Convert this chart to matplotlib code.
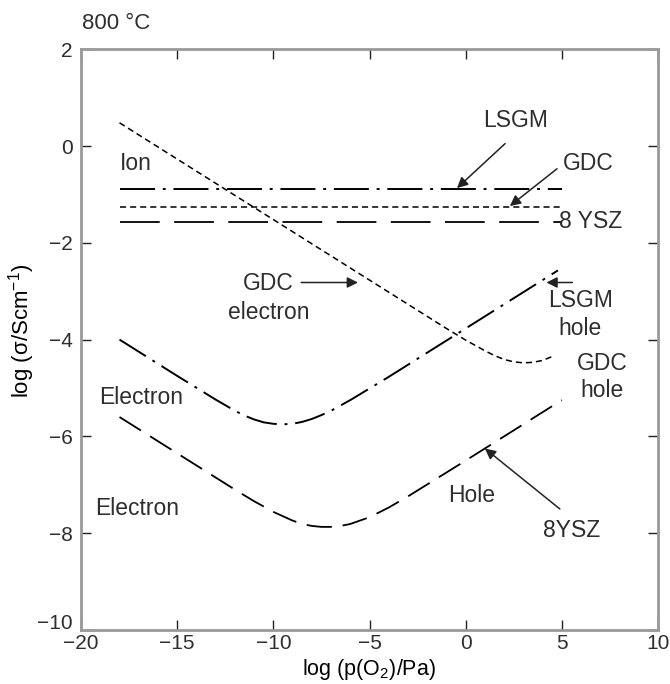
import matplotlib
matplotlib.use("Agg")
import matplotlib.pyplot as plt
import matplotlib.transforms as mtransforms

plt.rcParams['font.family'] = ['Liberation Sans', 'DejaVu Sans']
plt.rcParams['text.color'] = '#2e2e2e'
plt.rcParams['mathtext.fontset'] = 'custom'
plt.rcParams['mathtext.rm'] = 'Liberation Sans'
plt.rcParams['mathtext.it'] = 'Liberation Sans'

# ionic conductivities (flat lines), log(S/cm)
ion_x = [-18, 5]
lsgm_ion = [-0.88, -0.88]
gdc_ion = [-1.25, -1.25]
ysz_ion = [-1.56, -1.56]

# GDC electronic + hole conductivity
gdc_x = [-18, -10, -5, -2, -1, 0, 0.5, 1, 1.5, 2, 2.5, 3, 3.5, 4, 4.5]
gdc_y = [0.48, -1.52, -2.77, -3.52, -3.77, -4.01, -4.12, -4.23, -4.33,
         -4.41, -4.46, -4.48, -4.47, -4.43, -4.35]

# LSGM electron / hole
lsgm_x = [-18, -15, -13, -12, -11.5, -11, -10.5, -10, -9.5, -9, -8.5, -8,
          -7.5, -7, -6, -4, -1, 2, 4.8]
lsgm_y = [-4.00, -4.75, -5.24, -5.47, -5.57, -5.65, -5.71, -5.74, -5.75,
          -5.74, -5.70, -5.64, -5.56, -5.47, -5.25, -4.77, -4.02, -3.27, -2.57]

# 8YSZ electron / hole
ysz_x = [-18, -15, -12, -11, -10, -9, -8.5, -8, -7.5, -7, -6.5, -6, -5, -4,
         -3, 0, 3, 5]
ysz_y = [-5.60, -6.35, -7.10, -7.34, -7.56, -7.74, -7.81, -7.85, -7.87,
         -7.87, -7.85, -7.81, -7.67, -7.47, -7.24, -6.50, -5.75, -5.25]

fig = plt.figure(figsize=(6.7, 6.84), dpi=100)
ax = fig.add_axes([0.121, 0.079, 0.861, 0.849])

dashdot = (0, (18, 4, 1.5, 4))
short = (0, (4, 2.6))
longd = (0, (22, 8))

ax.plot(ion_x, lsgm_ion, color='k', lw=1.4, linestyle=dashdot)
ax.plot(ion_x, gdc_ion, color='k', lw=1.1, linestyle=short)
ax.plot(ion_x, ysz_ion, color='k', lw=1.3, linestyle=longd)
ax.plot(gdc_x, gdc_y, color='k', lw=1.1, linestyle=short)
ax.plot(lsgm_x, lsgm_y, color='k', lw=1.4, linestyle=(0, (16, 4, 1.5, 4)))
ax.plot(ysz_x, ysz_y, color='k', lw=1.3, linestyle=(0, (14, 6)))

ax.set_xlim(-20, 10)
ax.set_ylim(-10, 2)
ax.set_xticks([-20, -15, -10, -5, 0, 5, 10])
ax.set_yticks([-10, -8, -6, -4, -2, 0, 2])
ax.tick_params(direction='in', top=True, right=True, length=7, width=1,
               color='#222222', labelsize=15, labelcolor='#2e2e2e', pad=6)
ax.tick_params(axis='x', pad=3)
for s in ax.spines.values():
    s.set_color('#999999')
    s.set_linewidth(2)

# lift the bottom y label a little so it clears the x tick labels
low = ax.yaxis.get_major_ticks()[0].label1
low.set_transform(low.get_transform() +
                  mtransforms.ScaledTranslation(0, 6 / 72, fig.dpi_scale_trans))

ax.set_xlabel(r'log (p(O$_2$)/Pa)', fontsize=15.5)
ax.set_ylabel(r'log ($\sigma$/Scm$^{-1}$)', fontsize=16)
ax.xaxis.set_label_coords(0.5, -0.046)
ax.yaxis.set_label_coords(-0.077, 0.515)
fig.text(0.122, 0.966, '800 \u00b0C', fontsize=16, ha='left', va='center')

fs = 16.5
arrow = dict(arrowstyle='-|>', color='#222222', lw=1.1, mutation_scale=16,
             shrinkA=0, shrinkB=0)

ax.text(-18, -0.36, 'Ion', fontsize=fs, ha='left', va='center')
ax.text(2.6, 0.52, 'LSGM', fontsize=fs, ha='center', va='center')
ax.annotate('', xy=(-0.45, -0.87), xytext=(2.05, 0.05), arrowprops=arrow)
ax.text(6.4, -0.36, 'GDC', fontsize=fs, ha='center', va='center')
ax.annotate('', xy=(2.3, -1.24), xytext=(4.75, -0.47), arrowprops=arrow)
ax.text(4.85, -1.56, '8 YSZ', fontsize=fs, ha='left', va='center')

ax.text(-10.25, -2.84, 'GDC', fontsize=fs, ha='center', va='center')
ax.text(-10.25, -3.44, 'electron', fontsize=fs, ha='center', va='center')
ax.annotate('', xy=(-5.6, -2.82), xytext=(-8.55, -2.82), arrowprops=arrow)

ax.text(5.95, -3.2, 'LSGM', fontsize=fs, ha='center', va='center')
ax.text(5.95, -3.77, 'hole', fontsize=fs, ha='center', va='center')
ax.annotate('', xy=(4.2, -2.82), xytext=(5.55, -2.82), arrowprops=arrow)

ax.text(7.1, -4.5, 'GDC', fontsize=fs, ha='center', va='center')
ax.text(7.1, -5.06, 'hole', fontsize=fs, ha='center', va='center')

ax.text(-16.9, -5.2, 'Electron', fontsize=fs, ha='center', va='center')
ax.text(-17.1, -7.5, 'Electron', fontsize=fs, ha='center', va='center')
ax.text(0.3, -7.22, 'Hole', fontsize=fs, ha='center', va='center')
ax.text(5.5, -7.95, '8YSZ', fontsize=fs, ha='center', va='center')
ax.annotate('', xy=(1.0, -6.25), xytext=(4.9, -7.5), arrowprops=arrow)

fig.savefig('out.png', dpi=100)
